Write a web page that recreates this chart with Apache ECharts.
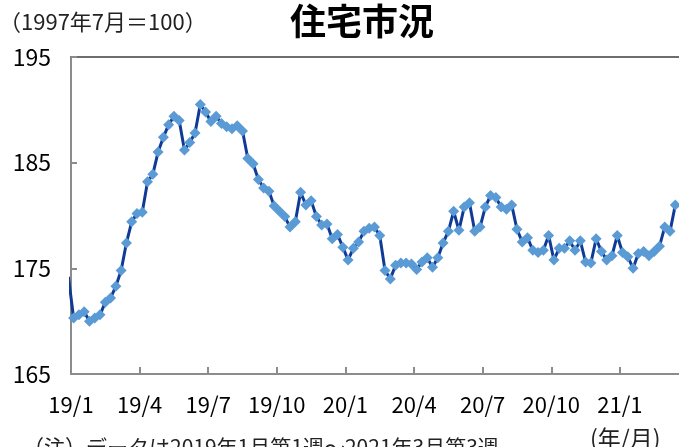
<!DOCTYPE html>
<html><head><meta charset="utf-8">
<script src="https://cdn.jsdelivr.net/npm/echarts@6/dist/echarts.min.js"></script>
<style>html,body{margin:0;padding:0;background:#fff}#c{width:679px;height:447px}</style>
</head><body><div id="c"></div>
<script>
// x-axis tick labels (one every 13 weeks)
const tickLabels = ['19/1','19/4','19/7','19/10','20/1','20/4','20/7','20/10','21/1'];
// value of the week just before the range (its line enters from behind the axis)
const priorValue = [174.2];
// weekly index values, 2019 week 1 ... 2021 March week 3
const values = [
  170.3,170.6,170.9,170.0,170.3,170.6,171.8,172.2,173.3,174.8,
  177.4,179.4,180.2,180.3,183.2,183.9,186.0,187.4,188.6,189.4,
  189.0,186.2,186.9,187.8,190.5,189.8,188.9,189.4,188.7,188.4,
  188.2,188.5,188.0,185.4,184.9,183.4,182.6,182.3,180.9,180.4,
  179.9,178.9,179.4,182.2,181.0,181.4,179.9,179.1,179.2,177.8,
  178.2,177.0,175.8,176.9,177.5,178.5,178.8,178.9,178.1,174.8,
  174.0,175.3,175.5,175.5,175.4,174.9,175.6,176.0,175.1,176.0,
  177.4,178.5,180.4,178.6,180.8,181.2,178.5,178.9,180.8,181.9,
  181.7,180.8,180.6,181.0,178.7,177.5,177.9,176.7,176.5,176.7,
  178.1,175.8,176.9,176.9,177.6,176.7,177.6,175.6,175.5,177.8,
  176.6,175.8,176.2,178.1,176.5,176.1,175.0,176.4,176.6,176.2,
  176.6,177.1,178.9,178.5,181.0
];
const yTicks = [165, 175, 185, 195];
const WEEKS_PER_TICK = 13;

const data = [[-0.5, priorValue[0]]].concat(values.map((v, i) => [i + 0.5, v]));
const FONT = '"Noto Sans CJK JP", "Noto Sans", sans-serif';

const chart = echarts.init(document.getElementById('c'), null, {renderer: 'canvas'});
chart.setOption({
  animation: false,
  backgroundColor: '#fff',
  title: [
    {text: '住宅市況', left: 285, top: -2,
     textStyle: {fontFamily: FONT, fontSize: 36, fontWeight: 'bold', color: '#000'}},
    {text: '（1997年7月＝100）', left: -6, top: 6,
     textStyle: {fontFamily: FONT, fontSize: 22, fontWeight: 'normal', color: '#222'}},
    {text: '(年/月)', left: 585, top: 422,
     textStyle: {fontFamily: FONT, fontSize: 23, fontWeight: 'normal', color: '#222'}},
    {text: '（注）データは2019年1月第1週～2021年3月第3週', left: 18, top: 432,
     textStyle: {fontFamily: FONT, fontSize: 21, fontWeight: 'normal', color: '#222'}}
  ],
  grid: {left: 71, top: 57, right: 0, bottom: 73, containLabel: false},
  xAxis: [{
    type: 'value', min: 0, max: 115.2, interval: WEEKS_PER_TICK,
    axisLine: {lineStyle: {color: '#8c8c8c', width: 2}},
    axisTick: {inside: true, length: 7, lineStyle: {color: '#8c8c8c', width: 2}},
    splitLine: {show: false},
    axisLabel: {
      margin: 20, fontFamily: FONT, fontSize: 22, color: '#000',
      showMaxLabel: false,
      formatter: v => {
        const k = Math.round(v / WEEKS_PER_TICK);
        return (Math.abs(v - k * WEEKS_PER_TICK) < 1e-6 && k < tickLabels.length) ? tickLabels[k] : '';
      }
    }
  }, {
    type: 'value', position: 'top', min: 0, max: 115.2,
    axisLine: {show: true, onZero: false, lineStyle: {color: '#6e6e6e', width: 2}},
    axisTick: {show: false}, axisLabel: {show: false}, splitLine: {show: false}
  }],
  yAxis: {
    type: 'value', min: yTicks[0], max: yTicks[yTicks.length - 1], interval: 10,
    axisLine: {show: true, lineStyle: {color: '#8c8c8c', width: 2}},
    axisTick: {show: true, inside: true, length: 6, lineStyle: {color: '#8c8c8c', width: 2}},
    splitLine: {show: false},
    axisLabel: {margin: 20, fontFamily: FONT, fontSize: 23, color: '#000'}
  },
  series: [{
    type: 'line', xAxisIndex: 0, data: data, clip: true,
    symbol: 'diamond', symbolSize: 11, showAllSymbol: true,
    lineStyle: {color: '#0f3a96', width: 3},
    itemStyle: {color: '#5b9bd5'},
    z: 3
  }]
});
</script></body></html>
